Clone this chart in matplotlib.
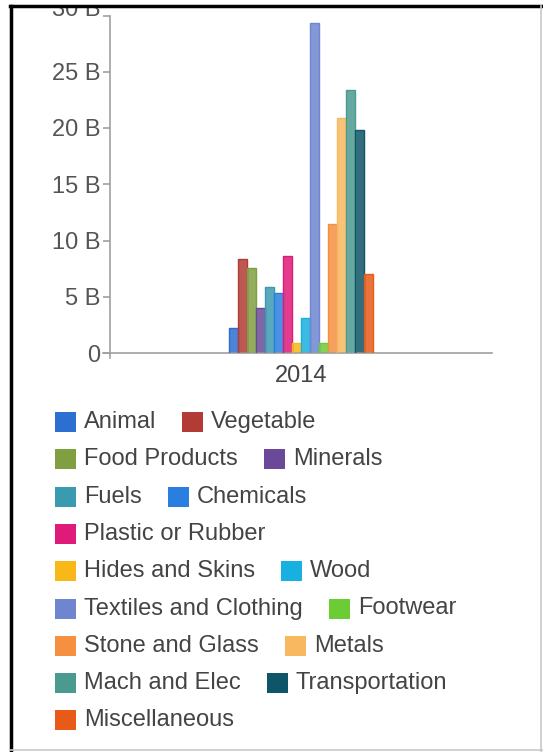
import matplotlib
matplotlib.use("Agg")
import matplotlib.pyplot as plt
from matplotlib.patches import Rectangle
from matplotlib.lines import Line2D
from matplotlib.transforms import ScaledTranslation

plt.rcParams['font.family'] = ['Liberation Sans', 'DejaVu Sans']

year_label = "2014"
categories = ["Animal", "Vegetable", "Food Products", "Minerals", "Fuels", "Chemicals",
              "Plastic or Rubber", "Hides and Skins", "Wood", "Textiles and Clothing",
              "Footwear", "Stone and Glass", "Metals", "Mach and Elec", "Transportation",
              "Miscellaneous"]
values_b = [2.2, 8.4, 7.6, 4.0, 5.9, 5.3, 8.6, 0.9, 3.1, 29.3, 0.9, 11.5, 20.9, 23.4, 19.8, 7.0]
colors = ["#2d6fd0", "#b23b35", "#7f9f40", "#6a4a98", "#3a9ab0", "#2a7ee0",
          "#e01a78", "#f7b818", "#18b0e0", "#6f85d0", "#6ccc35", "#f59040",
          "#f7b860", "#4a9a90", "#0e5568", "#e85a18"]
yticks = [0, 5, 10, 15, 20, 25, 30]
ytick_labels = ["0", "5 B", "10 B", "15 B", "20 B", "25 B", "30 B"]
legend_rows = [[0, 1], [2, 3], [4, 5], [6], [7, 8], [9, 10], [11, 12], [13, 14], [15]]

W, H = 543, 752
fig = plt.figure(figsize=(W / 100, H / 100), dpi=100)
fig.patch.set_facecolor("white")

ax_l, ax_r, ax_t, ax_b = 110, 492, 15.5, 353
ax = fig.add_axes([ax_l / W, 1 - ax_b / H, (ax_r - ax_l) / W, (ax_b - ax_t) / H])

n = len(categories)
group_w = 144 / (ax_r - ax_l)
bw = group_w / n
for i, (v, c) in enumerate(zip(values_b, colors)):
    x = -group_w / 2 + bw * (i + 0.5)
    ax.bar(x, v, width=bw, color=c, alpha=0.85, edgecolor="none", zorder=2)
    ax.bar(x, v, width=bw, facecolor="none", edgecolor=c, linewidth=1.0, zorder=3)

ax.set_xlim(-0.5, 0.5)
ax.set_ylim(0, 30)
for s in ["top", "right"]:
    ax.spines[s].set_visible(False)
for s in ["left", "bottom"]:
    ax.spines[s].set_color("#a0a0a0")
    ax.spines[s].set_linewidth(1.2)
ax.set_yticks(yticks)
ax.set_yticklabels(ytick_labels)
ax.tick_params(axis="y", length=5, width=1.2, color="#a0a0a0", pad=2,
               labelsize=17, labelcolor="#555555")
ax.set_xticks([0])
ax.set_xticklabels([year_label])
ax.tick_params(axis="x", length=0, pad=9, labelsize=17, labelcolor="#444444")
# the top tick label sits a little higher (partly hidden by the frame)
top_tick = ax.yaxis.get_major_ticks()[-1]
top_tick.label1.set_transform(top_tick.label1.get_transform() +
                              ScaledTranslation(0, 8 / 100, fig.dpi_scale_trans))
# small extensions of axes lines
ax.add_line(Line2D([-7 / (ax_r - ax_l), 0], [0, 0], transform=ax.transAxes,
                   color="#a0a0a0", lw=1.2, clip_on=False))
ax.add_line(Line2D([0, 0], [-5 / (ax_b - ax_t), 0], transform=ax.transAxes,
                   color="#a0a0a0", lw=1.2, clip_on=False))

# legend (flow layout)
fig.canvas.draw()
renderer = fig.canvas.get_renderer()
row0, row_gap = 422, 37.3
sw_w, sw_h = 21, 20
for r, row in enumerate(legend_rows):
    yc = row0 + r * row_gap
    x = 55
    for idx in row:
        fig.patches.append(Rectangle((x / W, 1 - (yc + sw_h / 2) / H), sw_w / W, sw_h / H,
                                     transform=fig.transFigure, facecolor=colors[idx],
                                     edgecolor="none", figure=fig))
        t = fig.text((x + sw_w + 8) / W, 1 - yc / H, categories[idx], fontsize=17,
                     color="#444444", va="center", ha="left")
        bb = t.get_window_extent(renderer)
        x = bb.x1 + 26

# frame
fig.patches.append(Rectangle((0, 1 - 6 / H), 1, 6 / H, transform=fig.transFigure,
                             facecolor="white", edgecolor="none", zorder=10, figure=fig))
fig.lines.append(Line2D([10 / W, 1], [1 - 6 / H, 1 - 6 / H], transform=fig.transFigure,
                        color="black", lw=2.5, zorder=11))
fig.lines.append(Line2D([11 / W, 11 / W], [0, 1 - 6 / H], transform=fig.transFigure,
                        color="black", lw=2.5, zorder=11))
fig.lines.append(Line2D([541 / W, 541 / W], [0, 1 - 6 / H], transform=fig.transFigure,
                        color="#c8c8c8", lw=1.2, zorder=11))
fig.lines.append(Line2D([10 / W, 1], [1 - 750 / H, 1 - 750 / H], transform=fig.transFigure,
                        color="#c8c8c8", lw=1.2, zorder=11))

fig.savefig("out.png", dpi=100)
